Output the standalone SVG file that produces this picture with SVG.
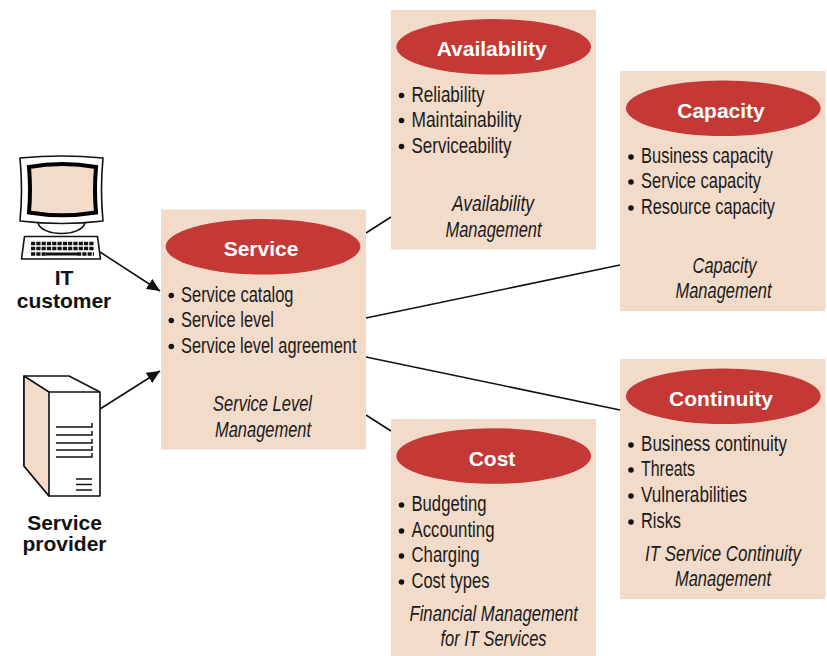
<svg xmlns="http://www.w3.org/2000/svg" width="827" height="656" viewBox="0 0 827 656">
<style>
.box{fill:#f3dbca}
.el{fill:#c43836}
.h{font:bold 21px "Liberation Sans",Arial,sans-serif;fill:#fff;text-anchor:middle}
.t{font:21.500px "Liberation Sans",Arial,sans-serif;fill:#1a1a1a}
.i{font:italic 21.500px "Liberation Sans",Arial,sans-serif;fill:#1a1a1a}
.d{fill:#111}
.lab{font:bold 21px "Liberation Sans",Arial,sans-serif;fill:#111;text-anchor:middle}
.c{fill:none;stroke:#111;stroke-width:1.6}
.s{fill:#fff;stroke:#111;stroke-width:1.6;stroke-linejoin:round}
.k{fill:none;stroke:#111;stroke-width:1.5}
</style>
<defs>
<marker id="a" markerUnits="userSpaceOnUse" markerWidth="14" markerHeight="12" refX="13" refY="6" orient="auto"><path d="M0 0L13 6L0 12Z" fill="#111"/></marker>
</defs>
<g id="connectors">
<path class="c" d="M100 252L160 291" marker-end="url(#a)"/>
<path class="c" d="M100 409L160 371" marker-end="url(#a)"/>
<path class="c" d="M366 233L391 217"/>
<path class="c" d="M366 318L620 265"/>
<path class="c" d="M366 357L620 410"/>
<path class="c" d="M366 415L391 431"/>
</g>
<g id="it-customer">
<path class="s" d="M38 223C42 237 81 237 85 223"/>
<path class="s" d="M20 158Q62 154 103 158Q100 190 103 221Q62 226 20 221Q23 190 20 158Z"/>
<path d="M29 167Q62 161 96 167Q94 190 96 212.500Q62 218 29 212.500Q31 190 29 167Z" fill="#f3dbca" stroke="#000" stroke-width="4"/>
<path class="s" d="M24.500 236.500H97.500L100.500 259H21.500Z"/>
<path d="M31 243.500H94M31 248.500H94M31 254H47M77 254H94" stroke="#111" stroke-width="3.400" stroke-dasharray="4.200 1.100" fill="none"/>
<path d="M46 254H77" stroke="#111" stroke-width="3"/>
<text class="lab" x="64" y="285">IT</text>
<text class="lab" x="64" y="307.500">customer</text>
</g>
<g id="service-provider">
<path class="s" d="M24 376H69L100 392V496H49L24 466Z"/>
<path d="M24 376L49 392V496L24 466Z" fill="#f3dbca" stroke="#111" stroke-width="1.600" stroke-linejoin="round"/>
<path class="k" d="M49 392H100"/>
<path class="k" d="M56 427H92V423M56 435H92V431M56 443H92V439M56 450H92V446M56 457H92V453M76 479H92M76 484.500H92M76 490H92"/>
<text class="lab" x="64.500" y="530">Service</text>
<text class="lab" x="64.500" y="551">provider</text>
</g>
<g id="service">
<rect class="box" x="161" y="209.500" width="205" height="240"/>
<ellipse class="el" cx="263" cy="246.700" rx="97.400" ry="27.800"/>
<text class="h" x="261" y="255.700">Service</text>
<circle class="d" cx="171.300" cy="295.500" r="2.800"/><text class="t" x="181" y="301.700" textLength="112.500" lengthAdjust="spacingAndGlyphs">Service catalog</text>
<circle class="d" cx="171.300" cy="320.500" r="2.800"/><text class="t" x="181" y="326.700" textLength="93" lengthAdjust="spacingAndGlyphs">Service level</text>
<circle class="d" cx="171.300" cy="346.500" r="2.800"/><text class="t" x="181" y="352.700" textLength="175.500" lengthAdjust="spacingAndGlyphs">Service level agreement</text>
<text class="i" x="213" y="410.700" textLength="99" lengthAdjust="spacingAndGlyphs">Service Level</text>
<text class="i" x="215" y="436.700" textLength="96" lengthAdjust="spacingAndGlyphs">Management</text>
</g>
<g id="availability">
<rect class="box" x="391" y="10" width="205" height="239.500"/>
<ellipse class="el" cx="493.700" cy="46.800" rx="97.400" ry="27.800"/>
<text class="h" x="491.700" y="55.700">Availability</text>
<circle class="d" cx="401.500" cy="95.500" r="2.800"/><text class="t" x="411.500" y="101.700" textLength="73" lengthAdjust="spacingAndGlyphs">Reliability</text>
<circle class="d" cx="401.500" cy="120.500" r="2.800"/><text class="t" x="411.500" y="126.700" textLength="110" lengthAdjust="spacingAndGlyphs">Maintainability</text>
<circle class="d" cx="401.500" cy="146.500" r="2.800"/><text class="t" x="411.500" y="152.700" textLength="100" lengthAdjust="spacingAndGlyphs">Serviceability</text>
<text class="i" x="452" y="210.700" textLength="82" lengthAdjust="spacingAndGlyphs">Availability</text>
<text class="i" x="445.500" y="236.700" textLength="96" lengthAdjust="spacingAndGlyphs">Management</text>
</g>
<g id="capacity">
<rect class="box" x="620" y="71" width="205.500" height="240"/>
<ellipse class="el" cx="723.300" cy="108.200" rx="97.400" ry="27.800"/>
<text class="h" x="721" y="117.700">Capacity</text>
<circle class="d" cx="631" cy="157" r="2.800"/><text class="t" x="641" y="163.300" textLength="132" lengthAdjust="spacingAndGlyphs">Business capacity</text>
<circle class="d" cx="631" cy="182" r="2.800"/><text class="t" x="641" y="188.300" textLength="120" lengthAdjust="spacingAndGlyphs">Service capacity</text>
<circle class="d" cx="631" cy="208" r="2.800"/><text class="t" x="641" y="214" textLength="134" lengthAdjust="spacingAndGlyphs">Resource capacity</text>
<text class="i" x="692.500" y="272.700" textLength="64" lengthAdjust="spacingAndGlyphs">Capacity</text>
<text class="i" x="675.500" y="298" textLength="96" lengthAdjust="spacingAndGlyphs">Management</text>
</g>
<g id="continuity">
<rect class="box" x="620" y="359" width="205.500" height="240"/>
<ellipse class="el" cx="723.300" cy="396.200" rx="97.400" ry="27.800"/>
<text class="h" x="721" y="406">Continuity</text>
<circle class="d" cx="631" cy="445" r="2.800"/><text class="t" x="641" y="451" textLength="146" lengthAdjust="spacingAndGlyphs">Business continuity</text>
<circle class="d" cx="631" cy="470" r="2.800"/><text class="t" x="641" y="476" textLength="54" lengthAdjust="spacingAndGlyphs">Threats</text>
<circle class="d" cx="631" cy="496" r="2.800"/><text class="t" x="641" y="502" textLength="106" lengthAdjust="spacingAndGlyphs">Vulnerabilities</text>
<circle class="d" cx="631" cy="522" r="2.800"/><text class="t" x="641" y="528" textLength="40" lengthAdjust="spacingAndGlyphs">Risks</text>
<text class="i" transform="translate(645 560.500) scale(.8 1)" textLength="195" lengthAdjust="spacingAndGlyphs">IT Service Continuity</text>
<text class="i" x="675" y="586" textLength="96" lengthAdjust="spacingAndGlyphs">Management</text>
</g>
<g id="cost">
<rect class="box" x="391" y="419" width="205" height="237"/>
<ellipse class="el" cx="493.700" cy="456" rx="97.400" ry="27.800"/>
<text class="h" x="492" y="465.700">Cost</text>
<circle class="d" cx="401.500" cy="505" r="2.800"/><text class="t" x="411.500" y="511" textLength="75" lengthAdjust="spacingAndGlyphs">Budgeting</text>
<circle class="d" cx="401.500" cy="531" r="2.800"/><text class="t" x="411.500" y="536.700" textLength="83" lengthAdjust="spacingAndGlyphs">Accounting</text>
<circle class="d" cx="401.500" cy="556" r="2.800"/><text class="t" x="411.500" y="561.700" textLength="68" lengthAdjust="spacingAndGlyphs">Charging</text>
<circle class="d" cx="401.500" cy="582" r="2.800"/><text class="t" x="411.500" y="587.700" textLength="78" lengthAdjust="spacingAndGlyphs">Cost types</text>
<text class="i" x="409.500" y="620.700" textLength="168.500" lengthAdjust="spacingAndGlyphs">Financial Management</text>
<text class="i" x="440.500" y="645.700" textLength="106" lengthAdjust="spacingAndGlyphs">for IT Services</text>
</g>
</svg>
